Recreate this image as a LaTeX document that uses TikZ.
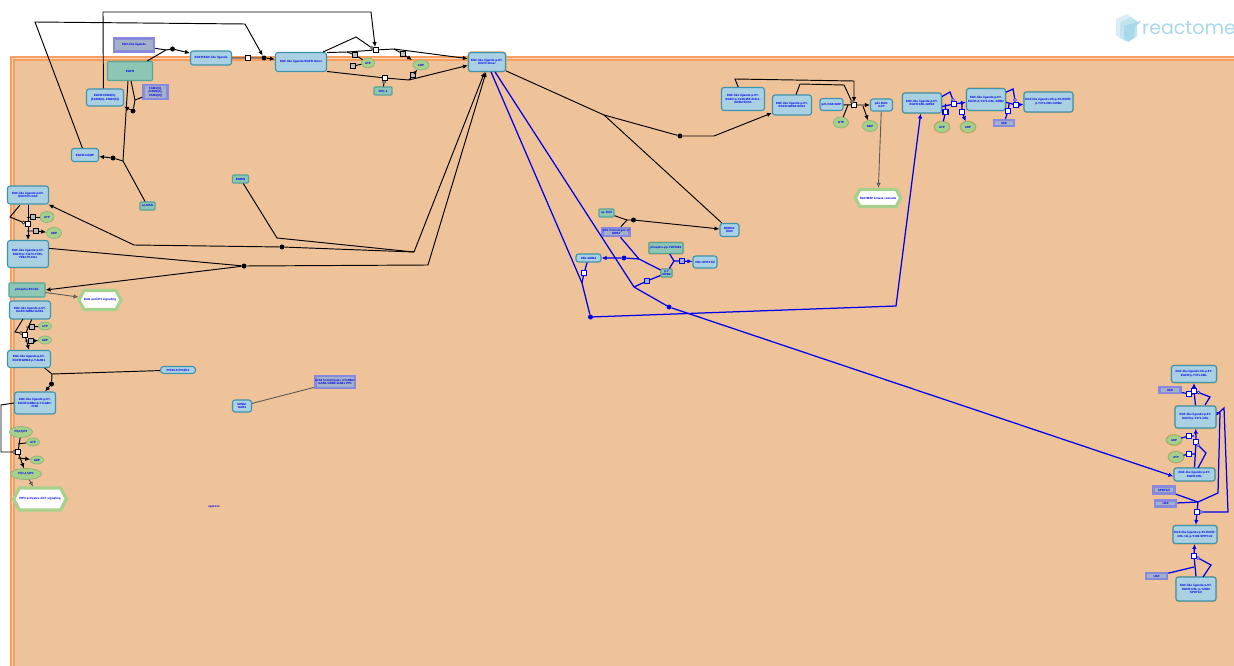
\documentclass[tikz,border=0pt]{standalone}
\usepackage{xcolor}
\usepackage{fontspec}
\setmainfont{Liberation Sans}
\newfontfamily\logofont{Poppins}
\usetikzlibrary{shapes.geometric, shapes.symbols, arrows.meta, calc}
\definecolor{cblue}{RGB}{0, 0, 235}
\definecolor{cback}{RGB}{239, 195, 154}
\definecolor{cband}{RGB}{248, 214, 184}
\definecolor{cline}{RGB}{248, 158, 96}
\definecolor{cbox}{RGB}{169, 208, 227}
\definecolor{cboxline}{RGB}{62, 148, 172}
\definecolor{cteal}{RGB}{142, 198, 181}
\definecolor{ctealline}{RGB}{84, 165, 152}
\definecolor{cset}{RGB}{163, 178, 200}
\definecolor{csetline}{RGB}{136, 136, 222}
\definecolor{cgreen}{RGB}{166, 208, 140}
\definecolor{cgold}{RGB}{226, 172, 96}
\definecolor{cgrayline}{RGB}{90, 90, 90}
\definecolor{cgrayfill}{RGB}{190, 190, 190}
\definecolor{clogo}{RGB}{168, 216, 234}
\tikzset{
  wh/.style 2 args={minimum width=#1pt, minimum height=#2pt},
  lbl/.style={font=\fontsize{3}{3.7}\selectfont\bfseries, text=cblue, align=center, inner sep=0pt},
  cplx/.style={lbl, rectangle, rounded corners=2.5pt, fill=cbox, draw=cboxline, line width=1.1pt},
  flag/.style={preaction={draw=cgold, line width=2pt}},
  ent/.style={lbl, rectangle, rounded corners=0.8pt, fill=cteal, draw=ctealline, line width=1.1pt},
  sett/.style={lbl, rectangle, fill=cset, draw=csetline, line width=2.5pt},
  chem/.style={lbl, ellipse, fill=cgreen, draw=cgreen!85!black, line width=0.7pt},
  way/.style={lbl, signal, signal to=east and west, signal pointer angle=125, fill=white, draw=cgreen, line width=3.2pt},
  pr/.style={rectangle, fill=white, draw=black, line width=0.9pt, minimum size=5pt, inner sep=0pt},
  prg/.style={pr, fill=cgrayfill},
  prb/.style={pr, draw=cblue, line width=1.1pt},
  pc/.style={circle, fill=white, draw=black, line width=0.5pt, minimum size=3pt, inner sep=0pt},
  pcb/.style={pc, draw=cblue},
  dt/.style={circle, fill=black, minimum size=5pt, inner sep=0pt},
  dtb/.style={dt, fill=cblue},
  bk/.style={draw=black, line width=0.95pt},
  bl/.style={draw=cblue, line width=1.25pt},
  gy/.style={draw=cgrayline, line width=0.9pt},
  ar/.style={-{Latex[length=5pt,width=4.5pt]}},
  aro/.style={-{Latex[open,length=5pt,width=4.5pt]}}
}
\begin{document}
\begin{tikzpicture}[x=1pt, y=-1pt]
  \clip (0,0) rectangle (1234,666);
  \fill[white] (0,0) rectangle (1234,666);

  % compartment
  \draw[cline, fill=cband, line width=1.2pt] (11,57) rectangle (1260,690);
  \draw[cline, fill=cback, line width=1.2pt] (14,60) rectangle (1260,690);

  % logo
  \fill[clogo!45] (1116,19) -- (1127,14) -- (1133,19) -- (1133,34) -- (1121,39) -- (1116,35) -- cycle;
  \fill[clogo!70] (1120,23) -- (1131,17) -- (1137,21) -- (1137,37) -- (1125,41) -- (1120,37) -- cycle;
  \fill[clogo] (1124,26) -- (1141,21) -- (1135,27) -- (1134,38) -- (1128,42) -- (1124,38) -- cycle;
  \node[anchor=west, text=clogo, inner sep=0pt, font=\logofont\fontsize{19}{19}\selectfont] (logo) at (1142,28) {reactome};

  % upper left
  \node[sett, wh={40}{13}] (ligands) at (134,45) {EGF-like ligands};
  \node[ent, wh={45}{19}] (egfr) at (130,71) {EGFR};
  \node[cplx, wh={41}{14}] (egfrLig) at (211,58) {EGFR:EGF-like ligands};
  \node[cplx, wh={51}{19}] (dimer) at (301,62) {EGF-like ligands:EGFR dimer};
  \node[cplx, flag, wh={37}{19}] (pDimer) at (487,62) {EGF-like ligands:p-6Y-\\EGFR dimer};
  \node[cplx, wh={37}{17}] (egfrTab) at (105,97.5) {EGFR:FAM3(X),\\(FAM3(X), FAM3(X))};
  \node[sett, wh={24}{14}] (tabs) at (155.5,92) {FAM3(X),\\(FAM3(X),\\FAM3(X))};
  \node[cplx, wh={27}{13}] (egfrAmp) at (85,155) {EGFR:UAMP};
  \node[ent, wh={15}{8}] (spMsn) at (147.5,206) {sp-MSN};
  \node[ent, wh={16}{8}] (egrin) at (240.5,179) {EGRIN};
  \node[chem, wh={13}{10}] (atpA) at (368,63) {ATP};
  \node[chem, wh={16}{10}] (adpA) at (421,65) {ADP};
  \node[ent, wh={18}{8}] (src) at (383,91) {SRC-1};

  % left column
  \node[cplx, wh={41}{18}] (plcA) at (28,195) {EGF-like ligands:p-6Y-\\EGFR:PLCG1};
  \node[cplx, wh={41}{27}] (plcB) at (28,254) {EGF-like ligands:p-6Y-\\EGFR:p-Y1173-Y783-\\Y992-PLCG1};
  \node[ent, wh={36}{14}] (phosPlc) at (27,290) {phospho-PLCG1};
  \node[way, wh={28}{19}] (dagWay) at (100,300) {DAG and IP3 signaling};
  \node[chem, wh={14}{11}] (atpB) at (47,217) {ATP};
  \node[chem, wh={15}{11}] (adpB) at (54,233) {ADP};
  \node[cplx, wh={41}{18}] (gabA) at (30,310) {EGF-like ligands:p-6Y-\\EGFR:GRB2:GAB1};
  \node[chem, wh={13}{8}] (atpC) at (45,326) {ATP};
  \node[chem, wh={13}{8}] (adpC) at (45,340) {ADP};
  \node[cplx, wh={43}{17}] (gabB) at (29,359) {EGF-like ligands:p-6Y-\\EGFR:GRB2:p-Y-GAB1};
  \node[cplx, wh={35}{7}, rounded corners=3pt] (pik) at (178,370) {PIK3CA:PIK3R1};
  \node[cplx, wh={41}{22}] (pikC) at (35,403) {EGF-like ligands:p-6Y-\\EGFR:GRB2:p-Y-GAB1:\\PI3K};
  \node[chem, wh={23}{11}] (pipA) at (21,432) {PI(4,5)P2};
  \node[chem, wh={13}{8}] (atpD) at (33,442) {ATP};
  \node[chem, wh={13}{8}] (adpD) at (37,460) {ADP};
  \node[chem, wh={31}{11}] (pipB) at (26,474) {PI(3,4,5)P3};
  \node[way, wh={36}{22}] (aktWay) at (40,499) {PIP3 activates AKT signaling};
  \node[cplx, wh={19}{12}] (grbGab) at (242,406) {GRB2:\\GAB1};
  \node[sett, wh={39}{12}] (grbHom) at (335,382) {Grb2 homologues of GRB2:\\GAB1:GRB2:GAB1 PP1};
  \node[lbl] (egress) at (214,507) {egress1};

  % upper right
  \node[cplx, wh={43}{23}] (shc) at (743,99) {EGF-like ligands:p-6Y-\\EGFR:p-Y349,350-SHC1:\\GRB2:SOS1};
  \node[cplx, wh={39}{20}] (sos) at (792,105) {EGF-like ligands:p-6Y-\\EGFR:GRB2:SOS1};
  \node[cplx, wh={23}{12}] (rasGdp) at (831.5,104.5) {p21 RAS:GDP};
  \node[cplx, wh={22}{12}] (rasGtp) at (881.5,105) {p21 RAS:\\GTP};
  \node[chem, wh={15}{11}] (gtp) at (841,122.5) {GTP};
  \node[chem, wh={15}{11}] (gdp) at (870,126) {GDP};
  \node[way, wh={30}{17}] (rafWay) at (878,198) {RAF/MAP kinase cascade};
  \node[cplx, flag, wh={39}{20}] (cblA) at (922,103) {EGF-like ligands:p-6Y-\\EGFR:CBL:GRB2};
  \node[chem, flag, wh={15}{11}] (atpE) at (942,127) {ATP};
  \node[chem, flag, wh={15}{11}] (adpE) at (968,127) {ADP};
  \node[cplx, flag, wh={39}{22}] (cblB) at (986,99.5) {EGF-like ligands:p-6Y-\\EGFR:p-Y371-CBL:GRB2};
  \node[cplx, flag, wh={49}{20}] (cblC) at (1048.5,102) {EGF-like ligands:Ub-p-6Y-EGFR:\\p-Y371-CBL:GRB2};
  \node[sett, flag, wh={20}{6}] (ubA) at (1004,123) {UbE};

  % middle
  \node[ent, wh={15}{8}] (spTki) at (606.5,213) {sp-TKI9};
  \node[sett, flag, wh={22}{8}] (cblCplx) at (616,232) {CBL:homologue of\\GRB2};
  \node[cplx, wh={19}{13}] (nedd) at (729.5,230) {NEDD4:\\EGR};
  \node[ent, flag, wh={34}{11}] (phosPp) at (666,248) {phospho-pp-YWHAE1};
  \node[cplx, wh={25}{8}] (cblGrb) at (588.5,258) {CBL:GRB2};
  \node[cplx, wh={24}{12}] (cblSpry) at (705,262) {CBL:SPRY1/2};
  \node[ent, flag, wh={11}{8}] (pyGrb) at (666.5,273) {p-Y\\GRB2};

  % lower right
  \node[cplx, flag, wh={45}{17}] (lowA) at (1194,374) {EGF-like ligands:Ub-p-6Y-\\EGFR:p-Y371-CBL};
  \node[sett, flag, wh={21}{6}] (ubB) at (1170,390) {UbE};
  \node[cplx, flag, wh={41}{22}] (lowB) at (1195.5,417) {EGF-like ligands:p-6Y-\\EGFR:p-Y371-CBL};
  \node[chem, flag, wh={15}{10}] (adpF) at (1174,440) {ADP};
  \node[chem, flag, wh={15}{11}] (atpF) at (1176,457) {ATP};
  \node[cplx, flag, wh={41}{13}] (lowC) at (1194.5,474.5) {EGF-like ligands:p-6Y-\\EGFR:CBL};
  \node[sett, flag, wh={21}{7}] (spryA) at (1164,490) {SPRY1/2};
  \node[sett, flag, wh={21}{6}] (ubC) at (1165.5,503.5) {UbE};
  \node[cplx, flag, wh={44}{18}] (lowD) at (1195,534.5) {EGF-like ligands:p-6Y-EGFR:\\CBL:Ub-p-Y108-SPRY1/2};
  \node[sett, flag, wh={21}{6}] (ubD) at (1156.5,576) {UbE};
  \node[cplx, flag, wh={40}{24}] (lowE) at (1196,589) {EGF-like ligands:p-6Y-\\EGFR:CBL:p-Y2000\\SPRY1/2};

  % reaction glyphs
  \node[dt] (dLig) at (172.5,49) {};
  \node[pr] (pLig) at (248,58) {};
  \node[dt] (dDim) at (264,58) {};
  \node[dt] (dTab) at (133,111) {};
  \node[dt] (dAmp) at (113,158) {};
  \node[pr] (pAuto) at (375.5,50) {};
  \node[pc] (cAuto) at (372,48) {};
  \node[prg] (pAtpA) at (355,55) {};
  \node[prg] (pAdpA) at (403,54) {};
  \node[prg] (pAtpB) at (353,66) {};
  \node[pr] (pSrc) at (385,78) {};
  \node[prg] (pAdpB) at (413,75) {};
  \node[pc] (cSrc) at (384,82) {};
  \node[pr] (pPlc) at (28,224) {};
  \node[pc] (cPlc) at (23.5,222.5) {};
  \node[prg] (pAtpC) at (33,217) {};
  \node[prg] (pAdpC) at (36,231) {};
  \node[pr] (pGab) at (25,335) {};
  \node[pc] (cGab) at (21,333) {};
  \node[prg] (pAtpD) at (32,327) {};
  \node[prg] (pAdpD) at (31,341) {};
  \node[dt] (dPik) at (51.5,384) {};
  \node[pr] (pPip) at (18,452) {};
  \node[pc] (cPip) at (14,452) {};
  \node[dt] (dPlcA) at (282,247) {};
  \node[dt] (dPlcB) at (244,266) {};
  \node[dt] (dSos) at (680,136) {};
  \node[pr] (pRas) at (854,105) {};
  \node[pc] (cRas) at (852,102) {};
  \node[dt] (dNedd) at (633.5,220) {};
  \node[pr, fill=cset, draw=cblue] (pSpry) at (682,261) {};
  \node[prb] (pCblGrb) at (584,273) {};
  \node[pr, fill=cset, draw=cblue] (pPyGrb) at (647,281) {};
  \node[dtb] (dCbl) at (624,258) {};
  \node[dtb] (dLong) at (669,307) {};
  \node[dtb] (dTurn) at (590.5,317) {};
  \node[prb] (pCblA) at (954,104) {};
  \node[pcb] (cCblA) at (953,100) {};
  \node[prb] (pAtpE) at (945.5,112) {};
  \node[prb] (pAdpE) at (962,112) {};
  \node[prb] (pCblB) at (1016,105) {};
  \node[pcb] (cCblB) at (1015,100) {};
  \node[prb] (pUbA) at (1008,111) {};
  \node[prb] (pLowA) at (1194,391) {};
  \node[pcb] (cLowA) at (1198.5,392.5) {};
  \node[prb] (pUbB) at (1189,394) {};
  \node[prb] (pLowB) at (1196,442) {};
  \node[pcb] (cLowB) at (1198,445) {};
  \node[prb] (pAdpF) at (1189,436) {};
  \node[prb] (pAtpF) at (1189,454) {};
  \node[prb] (pLowC) at (1197,512) {};
  \node[pcb] (cLowC) at (1201,512) {};
  \node[prb] (pLowD) at (1194,556) {};
  \node[pcb] (cLowD) at (1198,558) {};

  % free points
  \coordinate (jLig) at (166,50);
  \coordinate (jPlcA) at (414,252);
  \coordinate (jPlcB) at (428,265);
  \coordinate (jEgfr) at (123,161);
  \coordinate (jTab) at (135,100);
  \coordinate (jPik) at (52,374);
  \coordinate (jSos) at (604,115);
  \coordinate (jCbl) at (639,259);
  \coordinate (jSpry) at (674,261);
  \coordinate (jPy) at (634,287);
  \coordinate (jBlue) at (582,283);
  \coordinate (jNedd) at (627,220);
  \coordinate (jLowC) at (1198,502);

  % black edges, top left
  \draw[bk] (ligands) -- (jLig);
  \draw[bk] (egfr) -- (jLig);
  \draw[bk, ar] (jLig) -- (dLig) -- (egfrLig);
  \draw[bk, ar] (egfrLig) -- (pLig) -- (dDim) -- (dimer);
  \draw[bk, ar] (egfrAmp) -- (35,22) -- (245,24) -- (dDim);
  \draw[bk, ar] (egfrTab.100) -- (103,12) -- (371,12) -- (pAuto);
  \draw[bk] (131,81) -- (jTab) -- (dTab);
  \draw[bk] (tabs) -- (jTab);
  \draw[bk, ar] (dTab) -- (egfrTab);
  \draw[bk] (128,81) -- (jEgfr);
  \draw[bk] (spMsn) -- (jEgfr);
  \draw[bk, ar] (jEgfr) -- (dAmp) -- (egfrAmp);

  % black edges, dimer
  \draw[bk] (dimer) -- (356,37) -- (cAuto);
  \draw[bk, ar] (dimer.20) -- (347,52) -- (pAuto) -- (394,49) -- (pDimer.170);
  \draw[bk] (pAtpA) -- (atpA);
  \draw[bk] (347,52) -- (pAtpA);
  \draw[bk, ar] (394,49) -- (pAdpA) -- (412,60);
  \draw[bk, ar] (dimer.-20) -- (pSrc) -- (409,80) -- (pDimer.190);
  \draw[bk] (pAtpB) -- (atpA);
  \draw[bk] (src) -- (cSrc);
  \draw[bk, ar] (409,80) -- (pAdpB) -- (adpA);

  % black edges, left column
  \draw[bk, ar] (plcA.-90) -- (pPlc) -- (plcB);
  \draw[bk] (20,205) -- (10,217) -- (cPlc);
  \draw[bk] (atpB) -- (pAtpC) -- (27,217);
  \draw[bk, ar] (27,231) -- (pAdpC) -- (adpB);
  \draw[bk, ar] (jPlcA) -- (pDimer.-103);
  \draw[bk, ar] (jPlcA) -- (dPlcA) -- (134,245) -- (plcA.-25);
  \draw[bk] (egrin) -- (277,238) -- (jPlcA);
  \draw[bk] (plcB.15) -- (dPlcB);
  \draw[bk, ar] (dPlcB) -- (phosPlc.east);
  \draw[bk, ar] (dPlcB) -- (jPlcB) -- (pDimer.-95);
  \draw[gy, aro] (phosPlc) -- (dagWay);
  \draw[bk, ar] (gabA.-80) -- (pGab) -- (gabB.90);
  \draw[bk] (23,319) -- (15,332) -- (cGab);
  \draw[bk] (atpC) -- (pAtpD) -- (26,327);
  \draw[bk, ar] (25,341) -- (pAdpD) -- (adpC);
  \draw[bk] (gabB.-30) -- (jPik);
  \draw[bk] (pik) -- (jPik);
  \draw[bk, ar] (jPik) -- (dPik) -- (pikC);
  \draw[bk] (pikC.west) -- (1,405) -- (1,452) -- (cPip);
  \draw[bk, ar] (pipA) -- (pPip) -- (pipB);
  \draw[bk] (atpD) -- (18,444);
  \draw[bk, ar] (18,458) -- (adpD);
  \draw[gy, aro] (pipB) -- (aktWay);
  \draw[gy] (grbGab) -- (grbHom);

  % black edges, upper right
  \draw[bk] (pDimer.-25) -- (jSos);
  \draw[bk, ar] (jSos) -- (dSos) -- (714,136) -- (sos);
  \draw[bk] (nedd) -- (jSos);
  \draw[bk, ar] (shc) -- (735,79) -- (854,81) -- (pRas);
  \draw[bk] (sos) -- (800,84) -- (844,85) -- (cRas);
  \draw[bk, ar] (rasGdp) -- (pRas) -- (rasGtp);
  \draw[bk] (gtp) -- (848,105);
  \draw[bk, ar] (863,106) -- (gdp);
  \draw[gy, aro] (rasGtp) -- (rafWay);
  \draw[bk] (spTki) -- (jNedd);
  \draw[bk] (cblCplx) -- (jNedd);
  \draw[bk, ar] (jNedd) -- (dNedd) -- (nedd);

  % blue edges, long
  \draw[bl, ar] (pDimer.-51) -- (jPy) -- (dLong) -- (lowC.185);
  \draw[bl] (pDimer.-68) -- (jBlue) -- (dTurn);
  \draw[bl, ar] (dTurn) -- (896,306) -- (cblA);
  \draw[bl] (jBlue) -- (pCblGrb) -- (cblGrb);
  \draw[bl] (jPy) -- (pPyGrb) -- (pyGrb);
  \draw[bl] (cblCplx) -- (jCbl) -- (pyGrb);
  \draw[bl, ar] (jCbl) -- (dCbl) -- (cblGrb);
  \draw[bl] (phosPp) -- (jSpry);
  \draw[bl] (pyGrb) -- (jSpry);
  \draw[bl, ar] (jSpry) -- (pSpry) -- (cblSpry);

  % blue edges, upper right
  \draw[bl, ar] (cblA.-10) -- (pCblA) -- (cblB.-172);
  \draw[bl] (cblA.18) -- (950,92) -- (cCblA);
  \draw[bl] (atpE) -- (pAtpE) -- (945.5,104);
  \draw[bl, ar] (962,104) -- (pAdpE) -- (adpE);
  \draw[bl, ar] (cblB.-8) -- (pCblB) -- (cblC);
  \draw[bl] (cblB.20) -- (1013,89) -- (cCblB);
  \draw[bl] (ubA) -- (pUbA) -- (1009,104);

  % blue edges, lower right
  \draw[bl, ar] (lowB.north) -- (pLowA) -- (lowA);
  \draw[bl] (1205,405) -- (1210,397) -- (cLowA);
  \draw[bl] (ubB) -- (pUbB) -- (1193,394);
  \draw[bl, ar] (lowC.north) -- (pLowB) -- (lowB);
  \draw[bl] (1198,468) -- (1206,453) -- (cLowB);
  \draw[bl] (adpF) -- (pAdpF) -- (1194,436);
  \draw[bl] (atpF) -- (pAtpF) -- (1195,454);
  \draw[bl] (lowB.6) -- (1224,408) -- (1228,512) -- (cLowC);
  \draw[bl] (lowB.12) -- (1220,413) -- (1218,493) -- (jLowC);
  \draw[bl] (spryA) -- (jLowC);
  \draw[bl] (ubC) -- (jLowC);
  \draw[bl, ar] (jLowC) -- (pLowC) -- (lowD);
  \draw[bl, ar] (lowE.north) -- (pLowD) -- (lowD);
  \draw[bl] (1203,577) -- (1211,565) -- (cLowD);
  \draw[bl] (ubD) -- (1194,567);
\end{tikzpicture}
\end{document}
